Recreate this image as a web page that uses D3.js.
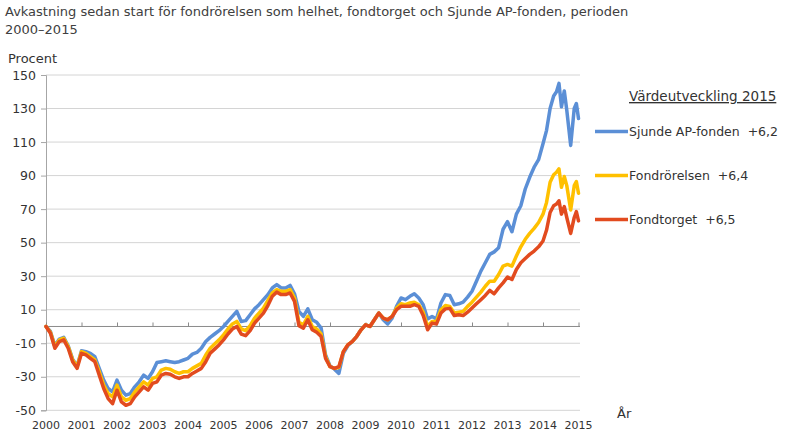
<!DOCTYPE html>
<html>
<head>
<meta charset="utf-8">
<script src="https://cdn.jsdelivr.net/npm/d3@7"></script>
<style>
  body { margin: 0; background: #fff; }
  svg { font-family: "DejaVu Sans", Verdana, sans-serif; }
</style>
</head>
<body>
<div id="chart"></div>
<script>
var width = 787,
    height = 435;

// title and axis texts
var titleLines = ["Avkastning sedan start för fondrörelsen som helhet, fondtorget och Sjunde AP-fonden, perioden", "2000–2015"];
var yTitle = "Procent",
    xTitle = "År",
    legendTitle = "Värdeutveckling 2015";

var yTicks = [-50, -30, -10, 10, 30, 50, 70, 90, 110, 130, 150];
var xTicks = [2000, 2001, 2002, 2003, 2004, 2005, 2006, 2007, 2008, 2009, 2010, 2011, 2012, 2013, 2014, 2015];

// dates in decimal years
var dates = [
  2000, 2000.125, 2000.25, 2000.375, 2000.5, 2000.625, 2000.75, 2000.875,
  2001, 2001.125, 2001.25, 2001.375, 2001.5, 2001.625, 2001.75, 2001.875,
  2002, 2002.125, 2002.25, 2002.375, 2002.5, 2002.625, 2002.75, 2002.875,
  2003, 2003.125, 2003.25, 2003.375, 2003.5, 2003.625, 2003.75, 2003.875,
  2004, 2004.125, 2004.25, 2004.375, 2004.5, 2004.625, 2004.75, 2004.875,
  2005, 2005.125, 2005.25, 2005.375, 2005.5, 2005.625, 2005.75, 2005.875,
  2006, 2006.125, 2006.25, 2006.375, 2006.5, 2006.625, 2006.75, 2006.875,
  2007, 2007.125, 2007.25, 2007.375, 2007.5, 2007.625, 2007.75, 2007.875,
  2008, 2008.125, 2008.25, 2008.375, 2008.5, 2008.625, 2008.75, 2008.875,
  2009, 2009.125, 2009.25, 2009.375, 2009.5, 2009.625, 2009.75, 2009.875,
  2010, 2010.125, 2010.25, 2010.375, 2010.5, 2010.625, 2010.75, 2010.875,
  2011, 2011.125, 2011.25, 2011.375, 2011.5, 2011.625, 2011.75, 2011.875,
  2012, 2012.125, 2012.25, 2012.375, 2012.5, 2012.625, 2012.75, 2012.875,
  2013, 2013.125, 2013.25, 2013.375, 2013.5, 2013.625, 2013.75, 2013.875,
  2014, 2014.1, 2014.2, 2014.3, 2014.38, 2014.45, 2014.52, 2014.6, 2014.67, 2014.78, 2014.88, 2014.94, 2015
];

var sjundeAP = [
  0, -3, -11.5, -7.5, -6.5, -11.5, -19.5, -23.5,
  -14.5, -15, -16, -18, -25, -32, -37, -39,
  -32, -38, -41, -40, -36, -33, -29, -31,
  -27, -21.5, -21, -20.5, -21, -21.5, -21, -20,
  -19, -16.5, -15.5, -13, -9, -6.5, -4.5, -2.5,
  0, 3, 6, 9, 3, 3.5, 7, 10.5,
  13, 16, 19, 23, 25, 23, 23, 24.5,
  19.5, 9, 6, 10.5, 4, 2.5, -1, -17,
  -23.5, -25.5, -28, -16, -11.5, -9, -6, -2,
  1, 0, 4, 8, 4, 1.5, 5, 12,
  17, 16, 18, 19.5, 17, 13, 4.5, 6,
  4.5, 14, 19, 18.5, 13, 13.5, 14.5, 17.5,
  21, 27, 33, 38, 43, 44.5, 47, 58,
  62.5, 56.5, 67, 72, 82, 89, 95, 99.5,
  109, 117, 130, 137.5, 140, 145, 131, 140.5, 129, 108, 130, 133, 124
];

var fondrorelsen = [
  0, -3.5, -12, -8, -7, -12, -20, -24,
  -15, -16, -18, -20, -27, -35, -40, -42,
  -35, -42, -44, -43, -39, -36, -33, -35,
  -31, -30, -26, -25, -25.5, -27, -28, -27,
  -27, -25, -23.5, -22, -17, -13, -10.5, -8,
  -5, -1.5, 1.5, 3, -1.5, -2.5, 0.5, 5,
  8, 11, 15.5, 20, 22, 21, 21, 22,
  17, 2.5, 1, 6, 0, -1.5, -4.5, -18,
  -24, -25, -24.5, -15, -11, -9, -6, -2,
  1, 0, 4, 8, 5, 4, 6, 11,
  13.5, 13, 14, 14.5, 13, 8.5, 0, 3,
  3, 10, 12.5, 12, 8, 8.5, 9, 12,
  14.5, 17.5, 20.5, 24, 27, 27, 31, 36,
  37, 36, 42, 47.5, 52, 55.5, 58.5, 62,
  67, 74, 86, 90.5, 92, 94, 83, 89.5, 84, 69.5, 84, 86.5, 79.5
];

var fondtorget = [
  0, -4, -13, -9, -8, -13, -21, -25,
  -16, -17, -19, -21, -29, -37, -43, -46,
  -38, -45, -47, -46, -42, -39, -36, -38,
  -34, -33, -29, -28, -28.5, -30, -31, -30,
  -30, -28, -26.5, -25, -21, -16, -13.5, -11,
  -8, -4.5, -1.5, 0, -4.5, -5.5, -2.5, 2,
  5, 8, 12.5, 18, 20.5, 19, 19, 20,
  15, 0.5, -1, 4, -2, -3.5, -6, -19,
  -24, -25, -24, -15, -11, -9, -6, -2,
  1, 0, 4, 8, 5, 4, 6, 10,
  12, 12, 12, 13, 12, 6.5, -2, 2,
  1.5, 8, 10.5, 10.8, 6.5, 7, 6.5, 8.5,
  11, 13.5, 16, 18.5, 21.5, 19.5, 23, 26,
  29.5, 28, 34, 38, 40.5, 43, 45, 47.5,
  51, 57.5, 68, 72, 73, 75, 67, 71.5, 65, 55.5, 65, 68.5, 63
];

var seriesNames = ["Sjunde AP-fonden", "Fondrörelsen", "Fondtorget"];
var legendValues = ["+6,2", "+6,4", "+6,5"];
var colors = ["#5b8fd6", "#ffc000", "#e24b1f"];

var seriesData = [sjundeAP, fondrorelsen, fondtorget].map(function(vals, i) {
  return {
    name: seriesNames[i],
    color: colors[i],
    values: vals.map(function(v, j) { return { date: dates[j], value: v }; })
  };
});

var svg = d3.select("#chart").append("svg")
  .attr("width", width)
  .attr("height", height);

// title
svg.append("text")
  .attr("x", 5)
  .attr("y", 16)
  .style("font-size", "13px")
  .style("fill", "#404040")
  .selectAll("tspan")
  .data(titleLines)
  .enter()
  .append("tspan")
  .attr("x", 5)
  .attr("dy", function(d, i) { return i === 0 ? 0 : 17.5; })
  .text(function(d) { return d; });

var x = d3.scaleLinear()
  .domain([2000, 2015])
  .range([46, 578.5]);

var y = d3.scaleLinear()
  .domain([-50, 150])
  .range([410.3, 75]);

// gridlines
svg.append("g")
  .selectAll("line")
  .data(yTicks)
  .enter()
  .append("line")
  .attr("x1", x(2000))
  .attr("x2", 580)
  .attr("y1", function(d) { return y(d); })
  .attr("y2", function(d) { return y(d); })
  .style("stroke", "#d4d4d4")
  .style("stroke-width", 1);

// left axis (plain hyphen for negatives, like the original)
var yAxis = svg.append("g")
  .attr("transform", "translate(" + x(2000) + ",0)")
  .call(d3.axisLeft(y).tickValues(yTicks).tickSize(5).tickPadding(5)
    .tickFormat(function(d) { return String(d); }));
yAxis.select(".domain").style("stroke", "#a6a6a6");
yAxis.selectAll(".tick line").style("stroke", "#a6a6a6");
yAxis.selectAll("text")
  .style("font-family", "\"DejaVu Sans\", Verdana, sans-serif")
  .style("font-size", "12.5px")
  .style("fill", "#333");

// zero line with small year ticks
var xAxis = svg.append("g")
  .attr("transform", "translate(0," + y(0) + ")")
  .call(d3.axisTop(x).tickValues(xTicks).tickSize(4).tickFormat(""));
xAxis.select(".domain").style("stroke", "#8a8a8a").attr("d", "M" + x(2000) + ",0H580");
xAxis.selectAll(".tick line").style("stroke", "#8a8a8a");

// year labels at bottom
svg.append("g")
  .selectAll("text")
  .data(xTicks)
  .enter()
  .append("text")
  .attr("x", function(d) { return x(d); })
  .attr("y", 429)
  .attr("text-anchor", "middle")
  .style("font-size", "11px")
  .style("fill", "#333")
  .text(function(d) { return d; });

svg.append("text")
  .attr("x", 8)
  .attr("y", 63)
  .style("font-size", "13px")
  .style("fill", "#333")
  .text(yTitle);

svg.append("text")
  .attr("x", 617)
  .attr("y", 418)
  .style("font-size", "13px")
  .style("fill", "#333")
  .text(xTitle);

// lines
var line = d3.line()
  .x(function(d) { return x(d.date); })
  .y(function(d) { return y(d.value); });

svg.append("g")
  .selectAll("path")
  .data(seriesData)
  .enter()
  .append("path")
  .attr("d", function(d) { return line(d.values); })
  .style("fill", "none")
  .style("stroke", function(d) { return d.color; })
  .style("stroke-width", 3.5)
  .style("stroke-linejoin", "round")
  .style("stroke-linecap", "round");

// legend
svg.append("text")
  .attr("x", 629)
  .attr("y", 101)
  .style("font-size", "13.5px")
  .style("fill", "#333")
  .style("text-decoration", "underline")
  .text(legendTitle);

var legend = svg.append("g")
  .selectAll("g")
  .data(seriesData)
  .enter()
  .append("g")
  .attr("transform", function(d, i) { return "translate(0," + (131.5 + i * 44) + ")"; });

legend.append("line")
  .attr("x1", 595)
  .attr("x2", 628)
  .style("stroke", function(d) { return d.color; })
  .style("stroke-width", 3.5);

legend.append("text")
  .attr("x", 629)
  .attr("dy", "0.35em")
  .style("font-size", "12.5px")
  .style("fill", "#333")
  .style("white-space", "pre")
  .text(function(d, i) { return d.name + "  " + legendValues[i]; });
</script>
</body>
</html>
